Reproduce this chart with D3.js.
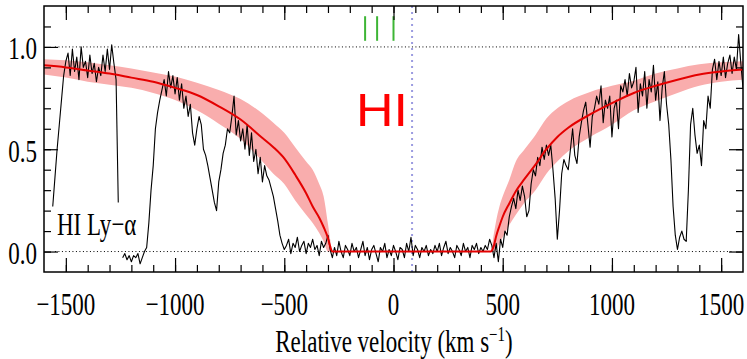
<!DOCTYPE html>
<html lang="en">
<head>
<meta charset="UTF-8">
<title>HI Ly-alpha profile</title>
<script src="https://d3js.org/d3.v7.min.js"></script>
<style>
  body { margin: 0; background: #fff; }
  text { font-family: "Liberation Serif", "DejaVu Serif", serif; fill: #000; }
</style>
</head>
<body>
<svg id="chart" width="747" height="359"></svg>
<script>
// observed normalised flux, one value every 10 km/s starting at -1560 (null = gap in the data)
const fluxStart = -1560;
const fluxStep = 10;
const flux = [
  0.22, 0.36, 0.50, 0.62, 0.74, 0.86, 0.93,
  0.97, 0.86, 0.99, 0.88, 0.95, 0.84, 1.00, 0.90, 0.93, 0.85, 0.96, 0.87, 0.92, 0.83, 0.90, 0.86, 0.96, 0.88, 0.99, 0.89, 1.01, 0.92, 0.84,
  0.24, null,
  -0.03, -0.01, -0.04, -0.02, -0.05, -0.02, -0.03, -0.01, -0.06, -0.03, 0.00,
  0.02, 0.14, 0.30, 0.42, 0.60, 0.68, 0.74, 0.79,
  0.84, 0.76, 0.88, 0.80, 0.86, 0.77, 0.85, 0.74, 0.82, 0.70,
  0.76, 0.66, 0.72, 0.58, 0.52, 0.60, 0.66, 0.62, 0.50, 0.47,
  0.42, 0.36, 0.30, 0.24, 0.20, 0.34, 0.40, 0.48, 0.52, 0.60,
  0.58, 0.66, 0.76, 0.57, 0.64, 0.54, 0.60, 0.50, 0.62, 0.47,
  0.58, 0.44, 0.50, 0.38, 0.46, 0.34, 0.42, 0.37, 0.35, 0.31,
  0.27, 0.21, 0.15, 0.08, 0.04, 0.01,
  0.03, 0.06, -0.01, 0.04, 0.02, 0.07, 0.00, 0.03, 0.05, -0.01,
  0.04, 0.02, 0.06, 0.01, 0.03, -0.02, 0.05, 0.02, 0.04, 0.08,
  0.01, -0.03, 0.02, -0.02, 0.05, 0.00, -0.03, 0.03, 0.01, -0.02,
  0.04, 0.00, 0.02, -0.03, 0.01, 0.05, -0.02, 0.02, -0.04, 0.01,
  0.03, -0.01, -0.05, 0.02, 0.00, 0.04, -0.03, 0.01, -0.02, 0.03,
  0.00, -0.04, 0.02, 0.01, -0.03, 0.04, 0.00, 0.07, -0.02, 0.03,
  0.01, -0.03, 0.02, 0.00, 0.03, -0.02, 0.01, -0.01, 0.03, 0.00,
  0.04, -0.02, 0.02, 0.05, -0.01, 0.02, 0.00, -0.03, 0.03, 0.01,
  -0.02, 0.04, 0.00, 0.02, -0.03, 0.03, 0.01, 0.04, -0.01, 0.02,
  0.00, 0.03, 0.01,
  0.06, 0.03, -0.03, 0.04, -0.05, 0.06, 0.02, 0.10, 0.08, 0.17,
  0.22, 0.26, 0.21, 0.30, 0.25, 0.32, 0.27, 0.17, 0.20, 0.33,
  0.40, 0.37, 0.46, 0.42, 0.51, 0.45, 0.52, 0.47, 0.52, 0.40,
  0.26, 0.06, 0.20, 0.38, 0.45, 0.42, 0.40, 0.50, 0.60, 0.47,
  0.43, 0.56, 0.63, 0.69, 0.73, 0.62, 0.51, 0.66, 0.70, 0.76,
  0.72, 0.81, 0.63, 0.74, 0.70, 0.76, 0.56, 0.70, 0.74, 0.60,
  0.81, 0.78, 0.84, 0.76, 0.87, 0.80, 0.83, 0.90, 0.68, 0.82,
  0.76, 0.88, 0.70, 0.84, 0.78, 0.91, 0.74, 0.83, 0.64, 0.80,
  0.88, 0.72, 0.62, 0.45, 0.22, 0.08, 0.01, 0.07, 0.10, 0.06,
  0.05, 0.30, 0.62, 0.70, 0.57, 0.48, 0.52, 0.42, 0.64, 0.60,
  0.76, 0.70, 0.89, 0.94, 0.84, 0.93, 0.86, 0.95, 0.85, 0.92,
  0.96, 0.87, 0.95, 0.89, 1.06, 0.92, 0.80
];

// fitted HI profile and its error range
const modelVel  = [-1600, -1500, -1400, -1300, -1200, -1100, -1000, -900, -800, -700, -600, -550, -500, -450, -400, -370, -340, -320, -300, -290, -280,
                   445, 460, 470, 485, 500, 530, 560, 600, 650, 700, 750, 800, 900, 1000, 1100, 1200, 1300, 1400, 1500, 1600];
const modelFlux = [0.91, 0.90, 0.885, 0.87, 0.85, 0.83, 0.80, 0.765, 0.71, 0.645, 0.555, 0.51, 0.455, 0.375, 0.285, 0.22, 0.165, 0.12, 0.065, 0.025, 0,
                   0, 0.03, 0.075, 0.125, 0.17, 0.235, 0.295, 0.355, 0.425, 0.50, 0.56, 0.605, 0.67, 0.725, 0.775, 0.81, 0.84, 0.865, 0.88, 0.89];
const modelLow  = [0.865, 0.85, 0.83, 0.815, 0.80, 0.775, 0.74, 0.69, 0.625, 0.55, 0.44, 0.38, 0.33, 0.25, 0.18, 0.14, 0.09, 0.05, 0, 0, 0,
                   0, 0, 0.01, 0.04, 0.07, 0.13, 0.18, 0.24, 0.30, 0.38, 0.44, 0.49, 0.56, 0.62, 0.69, 0.735, 0.775, 0.81, 0.83, 0.84];
const modelHigh = [0.94, 0.935, 0.925, 0.91, 0.895, 0.875, 0.855, 0.825, 0.79, 0.745, 0.675, 0.63, 0.58, 0.51, 0.44, 0.40, 0.33, 0.27, 0.135, 0.06, 0,
                   0, 0.09, 0.15, 0.22, 0.27, 0.35, 0.44, 0.50, 0.57, 0.65, 0.70, 0.735, 0.78, 0.81, 0.835, 0.87, 0.895, 0.915, 0.925, 0.93];

const xMajor = [-1500, -1000, -500, 0, 500, 1000, 1500];
const yMajor = [0.0, 0.5, 1.0];
const componentVel = [-130, -75, 0];   // green tick marks
const systemicVel = 85;                // dotted vertical line

const svg = d3.select("#chart");
const x = d3.scaleLinear().domain([-1600, 1600]).range([44, 743]);
const y = d3.scaleLinear().domain([-0.1, 1.2]).range([272, 6]);

const spec = flux.map((f, i) => ({ v: fluxStart + i * fluxStep, f: f }));
const model = modelVel.map((v, i) => ({ v: v, f: modelFlux[i], lo: modelLow[i], hi: modelHigh[i] }));

svg.append("clipPath").attr("id", "plot")
  .append("rect").attr("x", 44).attr("y", 6).attr("width", 699).attr("height", 266);
const plot = svg.append("g").attr("clip-path", "url(#plot)");

// error band
plot.append("path").datum(model)
  .attr("fill", "#f9adad")
  .attr("d", d3.area().curve(d3.curveMonotoneX)
    .x(d => x(d.v)).y0(d => y(d.lo)).y1(d => y(d.hi)));

// reference levels
[0, 1].forEach(level => {
  plot.append("line")
    .attr("x1", x(-1550)).attr("x2", x(1550))
    .attr("y1", y(level)).attr("y2", y(level))
    .attr("stroke", "#000").attr("stroke-width", 1)
    .attr("stroke-dasharray", "1,2.5");
});

plot.append("line")
  .attr("x1", x(systemicVel)).attr("x2", x(systemicVel))
  .attr("y1", 6).attr("y2", 272)
  .attr("stroke", "#9c9ce0").attr("stroke-width", 2)
  .attr("stroke-dasharray", "2,4");

// spectrum
plot.append("path").datum(spec)
  .attr("fill", "none").attr("stroke", "#000").attr("stroke-width", 1.1)
  .attr("stroke-linejoin", "round")
  .attr("d", d3.line().defined(d => d.f !== null).x(d => x(d.v)).y(d => y(d.f)));

// fitted profile
plot.append("path").datum(model)
  .attr("fill", "none").attr("stroke", "#e40000").attr("stroke-width", 2)
  .attr("d", d3.line().curve(d3.curveMonotoneX).x(d => x(d.v)).y(d => y(d.f)));

// component markers
plot.selectAll(".comp").data(componentVel).enter().append("line")
  .attr("x1", d => x(d)).attr("x2", d => x(d))
  .attr("y1", y(1.15)).attr("y2", y(1.03))
  .attr("stroke", "#3db535").attr("stroke-width", 2);

// axes: ticks point inwards on all four sides
function ticks(axis, values, size) {
  return axis.tickValues(values).tickSize(-size).tickFormat("");
}
const xMinor = d3.range(-1500, 1501, 100);
const yMinor = d3.range(0, 12).map(i => i / 10);
const axes = [
  [d3.axisBottom, x, "translate(0,272)"],
  [d3.axisTop, x, "translate(0,6)"],
  [d3.axisLeft, y, "translate(44,0)"],
  [d3.axisRight, y, "translate(743,0)"]
];
axes.forEach(([fn, sc, tr]) => {
  const minor = sc === x ? xMinor : yMinor;
  const major = sc === x ? xMajor : yMajor;
  [[minor, 7], [major, 14]].forEach(([vals, size]) => {
    const g = svg.append("g").attr("transform", tr).call(ticks(fn(sc), vals, size));
    g.select(".domain").remove();
    g.selectAll("line").attr("stroke", "#000").attr("stroke-width", 1.2);
  });
});

svg.append("rect")
  .attr("x", 44).attr("y", 6).attr("width", 699).attr("height", 266)
  .attr("fill", "none").attr("stroke", "#000").attr("stroke-width", 1.5);

// labels (the original text is drawn taller than it is wide)
const sy = 1.4;
function label(px, py, str, anchor, size) {
  return svg.append("text")
    .attr("transform", `translate(${px},${py}) scale(1,${sy})`)
    .attr("text-anchor", anchor)
    .attr("font-size", size)
    .text(str);
}

xMajor.forEach(v => label(x(v), 315, d3.format("d")(v), "middle", 23));
yMajor.forEach(f => label(37, y(f) + 12.5, d3.format(".1f")(f), "end", 23));

const title = svg.append("text")
  .attr("transform", "translate(394,352) scale(1,1.33)")
  .attr("text-anchor", "middle")
  .attr("font-size", 23);
title.append("tspan").text("Relative velocity (km s");
title.append("tspan").attr("font-size", 15).attr("dy", -8).text("\u22121");
title.append("tspan").attr("dy", 8).text(")");

label(57, 235, "HI Ly\u2212\u03b1", "start", 23);

svg.append("text")
  .attr("transform", "translate(356,126) scale(1,0.89)")
  .style("font-family", "'Liberation Sans', Arial, sans-serif")
  .attr("font-size", 52)
  .style("fill", "#ff0000")
  .text("HI");
</script>
</body>
</html>
